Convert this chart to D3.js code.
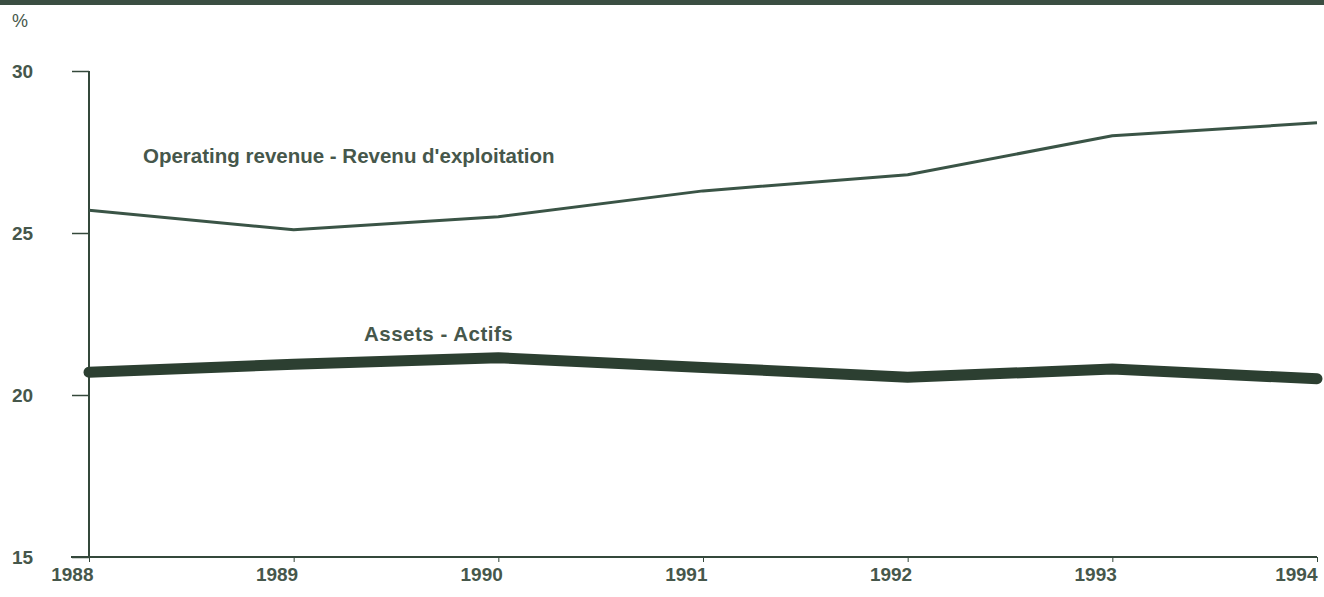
<!DOCTYPE html>
<html>
<head>
<meta charset="utf-8">
<script src="https://cdn.jsdelivr.net/npm/d3@7"></script>
<style>
  body { margin: 0; background: #fff; }
  svg { display: block; font-family: "Liberation Sans", Arial, sans-serif; }
</style>
</head>
<body>
<div id="chart"></div>
<script>
// values (%)
const years = [1988, 1989, 1990, 1991, 1992, 1993, 1994];
const revenue = [25.7, 25.1, 25.5, 26.3, 26.8, 28.0, 28.4];
const assets = [20.7, 20.95, 21.15, 20.85, 20.55, 20.8, 20.5];
const yTicks = [15, 20, 25, 30];
const revenueLabel = "Operating revenue - Revenu d'exploitation";
const assetsLabel = "Assets - Actifs";

const width = 1324, height = 597,
      margin = { top: 71, right: 7, bottom: 40, left: 89 };
const ink = "#34483b", textInk = "#46574b";

const svg = d3.select("#chart").append("svg")
    .attr("width", width)
    .attr("height", height);

// dark band across the top
svg.append("rect")
    .attr("x", 0).attr("y", 0)
    .attr("width", width).attr("height", 5)
    .attr("fill", "#3b4e42");

const x = d3.scaleLinear()
    .domain([1988, 1994])
    .range([margin.left, width - margin.right]);

const y = d3.scaleLinear()
    .domain([15, 30])
    .range([height - margin.bottom, margin.top]);

// y axis
const yAxis = svg.append("g")
    .attr("transform", `translate(${margin.left},0)`)
    .call(d3.axisLeft(y).tickValues(yTicks).tickSize(17).tickFormat(d3.format("d")));
yAxis.select(".domain").remove();
yAxis.append("line")
    .attr("y1", y(30)).attr("y2", y(15))
    .attr("stroke", ink).attr("stroke-width", 2);
yAxis.selectAll(".tick line").attr("stroke", ink).attr("stroke-width", 1.5);
yAxis.selectAll(".tick text")
    .attr("text-anchor", "start")
    .attr("x", -77)
    .attr("fill", textInk)
    .style("font-size", "19px").style("font-weight", "bold");

// x axis: labels sit just left of their ticks
const xAxis = svg.append("g")
    .attr("transform", `translate(0,${y(15)})`)
    .call(d3.axisBottom(x).tickValues(years).tickSize(5).tickFormat(d3.format("d")));
xAxis.select(".domain").remove();
xAxis.append("line")
    .attr("x1", x(1988) - 18).attr("x2", x(1994))
    .attr("stroke", ink).attr("stroke-width", 2);
xAxis.selectAll(".tick line").attr("stroke", ink).attr("stroke-width", 1);
xAxis.selectAll(".tick text")
    .attr("text-anchor", "end")
    .attr("x", (d, i) => i === years.length - 1 ? 0 : 4)
    .attr("y", 24)
    .attr("dy", null)
    .attr("fill", textInk)
    .style("font-size", "19px").style("font-weight", "bold");

// "%" unit
svg.append("text")
    .attr("x", 12).attr("y", 27)
    .attr("fill", textInk)
    .style("font-size", "18px")
    .text("%");

const line = d3.line()
    .x((d, i) => x(years[i]))
    .y(d => y(d));

svg.append("path")
    .datum(revenue)
    .attr("fill", "none")
    .attr("stroke", "#3a5446")
    .attr("stroke-width", 3)
    .attr("stroke-linejoin", "round")
    .attr("d", line);

svg.append("path")
    .datum(assets)
    .attr("fill", "none")
    .attr("stroke", "#2c3f31")
    .attr("stroke-width", 11)
    .attr("stroke-linecap", "round")
    .attr("stroke-linejoin", "round")
    .attr("d", line);

// series labels
svg.append("text")
    .attr("x", 143).attr("y", 163)
    .attr("fill", textInk)
    .style("font-size", "20.5px").style("font-weight", "bold")
    .text(revenueLabel);

svg.append("text")
    .attr("x", 364).attr("y", 341)
    .attr("fill", textInk)
    .style("font-size", "20.5px").style("font-weight", "bold")
    .style("letter-spacing", "0.5px")
    .text(assetsLabel);
</script>
</body>
</html>
